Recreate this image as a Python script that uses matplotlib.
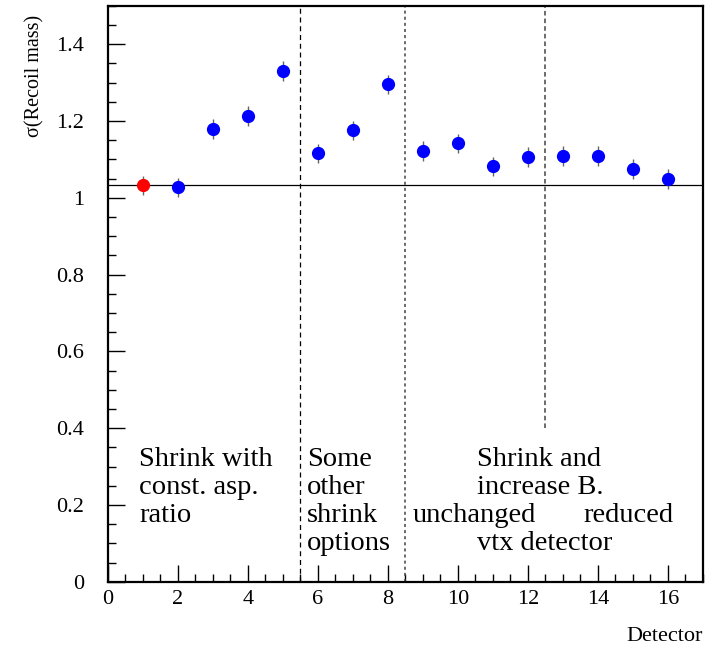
import matplotlib
matplotlib.use("Agg")
import matplotlib.pyplot as plt
from matplotlib.ticker import MultipleLocator

# --- data ---
detector = [1, 2, 3, 4, 5, 6, 7, 8, 9, 10, 11, 12, 13, 14, 15, 16]
sigma = [1.033, 1.027, 1.179, 1.213, 1.330, 1.116, 1.176, 1.296,
         1.122, 1.142, 1.082, 1.106, 1.109, 1.109, 1.075, 1.049]
sigma_err = [0.025] * 16
reference_level = 1.033
boundaries = [5.5, 8.5, 12.5]
# ------------------------------------

plt.rcParams['font.family'] = ['Liberation Serif', 'DejaVu Serif']

fig = plt.figure(figsize=(7.15, 6.45), dpi=100)
ax = fig.add_axes([0.151, 0.098, 0.832, 0.893])

# reference horizontal line
ax.axhline(reference_level, color='black', lw=0.9)

# group separators
ax.axvline(boundaries[0], color='black', lw=0.9, ls=(0, (4, 3)))
ax.axvline(boundaries[1], color='#444444', lw=1.1, ls=(0, (2, 2)))
ax.plot([boundaries[2], boundaries[2]], [0.4, 1.5], color='#444444', lw=1.1, ls=(0, (3, 2)))

# points, first one (reference detector) in red
colors = ['red'] + ['blue'] * (len(detector) - 1)
for x, y, e, c in zip(detector, sigma, sigma_err, colors):
    ax.errorbar(x, y, yerr=e, fmt='o', color=c, ms=8.5, ecolor='#666666',
                elinewidth=1, capsize=0, zorder=3)

ax.set_xlim(0, 17)
ax.set_ylim(0, 1.5)
ax.xaxis.set_major_locator(MultipleLocator(2))
ax.xaxis.set_minor_locator(MultipleLocator(0.5))
ax.yaxis.set_major_locator(MultipleLocator(0.2))
ax.yaxis.set_minor_locator(MultipleLocator(0.05))
ax.yaxis.set_major_formatter(plt.FuncFormatter(lambda v, p: '0' if abs(v) < 1e-9 else ('1' if abs(v - 1) < 1e-9 else f'{v:.1f}')))
ax.tick_params(which='both', direction='in', labelsize=16, top=False, right=False)
ax.tick_params(which='major', length=12, width=1)
ax.tick_params(which='minor', length=6, width=1)
ax.tick_params(axis='x', pad=6)
ax.tick_params(axis='y', pad=17)
for s in ax.spines.values():
    s.set_linewidth(1.6)

# annotations (one text per line, baselines)
fs = 20.5
for txt, x, y in [('Shrink with', 0.9, 0.302), ('const. asp.', 0.9, 0.229), ('ratio', 0.9, 0.156),
                  ('Some', 5.68, 0.302), ('other', 5.68, 0.229), ('shrink', 5.68, 0.156),
                  ('options', 5.68, 0.083),
                  ('Shrink and', 10.55, 0.302), ('increase B.', 10.55, 0.229),
                  ('unchanged', 8.7, 0.156), ('reduced', 13.6, 0.156),
                  ('vtx detector', 10.55, 0.083)]:
    ax.text(x, y, txt, fontsize=fs, va='baseline')

fig.text(0.049, 0.977, 'σ(Recoil mass)', rotation=90, fontsize=14.5, ha='center', va='top')
fig.text(0.983, 0.006, 'Detector', fontsize=16, ha='right', va='baseline')

fig.savefig('out.png', dpi=100)
